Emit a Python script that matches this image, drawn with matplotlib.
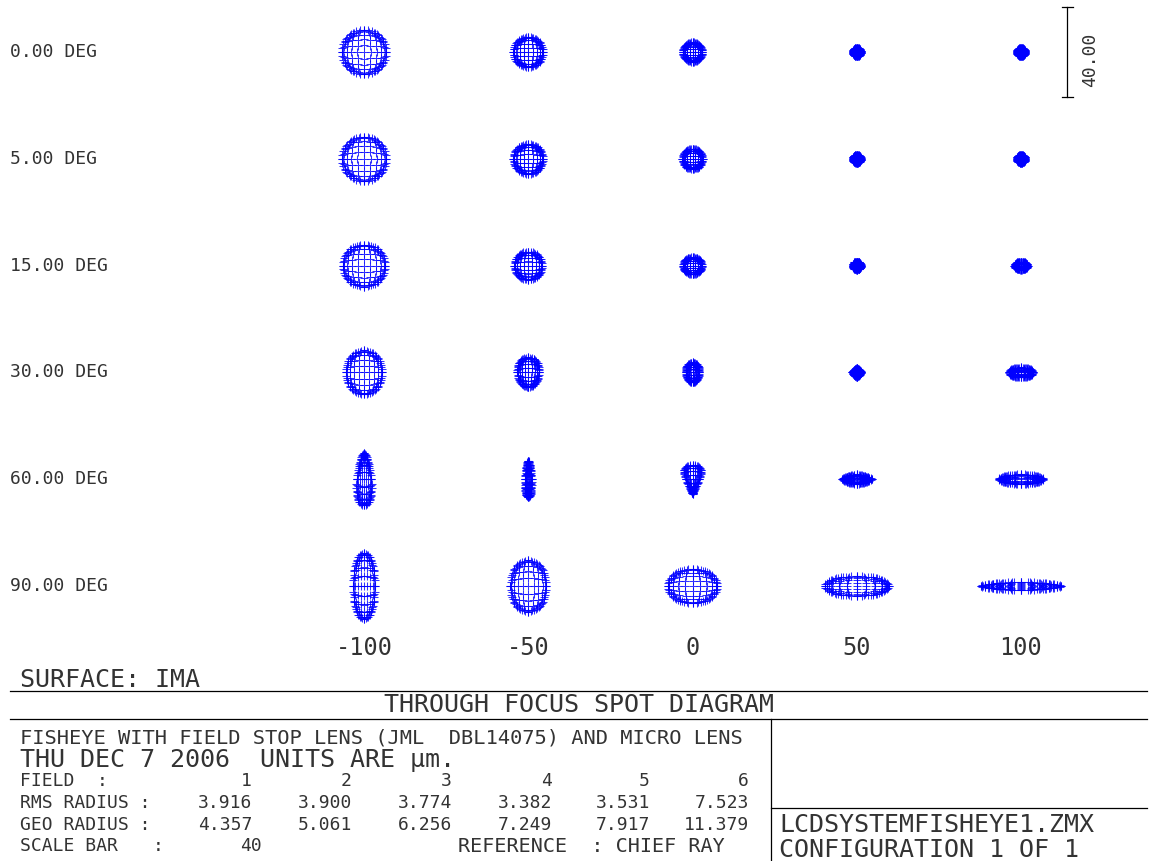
import numpy as np
import matplotlib
matplotlib.use("Agg")
import matplotlib.pyplot as plt
from matplotlib import font_manager

# ---------------------------------------------------------------- data
fields = ["0.00 DEG", "5.00 DEG", "15.00 DEG", "30.00 DEG", "60.00 DEG", "90.00 DEG"]
focus_um = [-100, -50, 0, 50, 100]

# full spot extent in micrometres (x width, y height) per field, per focus shift
spot_w = [
    [19.6, 13.3, 8.7, 3.6, 3.6],
    [19.6, 13.3, 9.0, 3.6, 3.6],
    [18.7, 12.4, 8.4, 3.6, 5.8],
    [16.0, 9.8, 6.2, 4.2, 10.7],
    [6.8, 3.0, 7.6, 13.3, 19.6],
    [9.8, 16.0, 22.2, 28.4, 35.6],
]
spot_h = [
    [19.6, 13.3, 8.7, 3.6, 3.6],
    [19.6, 13.3, 9.0, 3.6, 3.6],
    [18.7, 12.4, 7.6, 3.6, 3.6],
    [19.6, 13.3, 8.9, 4.2, 4.4],
    [23.0, 16.0, 12.9, 4.4, 4.4],
    [29.3, 23.0, 15.1, 8.9, 3.6],
]
# outline exponent (2 = ellipse, 1 = diamond) and top/bottom taper of each spot
spot_p = [
    [2, 2, 2, 2, 2],
    [2, 2, 2, 2, 2],
    [2, 2, 2, 2, 2],
    [2, 2, 2, 1.1, 2],
    [2, 2, 2, 1.3, 1.8],
    [2, 2, 2, 2, 1.6],
]
spot_t = [
    [0, 0, 0, 0, 0],
    [0, 0, 0, 0, 0],
    [0, 0, 0, 0, 0],
    [0, 0.1, 0.1, 0, 0],
    [-0.35, -0.3, 0.85, 0, 0],
    [0, 0, 0, 0, 0],
]

field_numbers = [1, 2, 3, 4, 5, 6]
rms_radius = ["3.916", "3.900", "3.774", "3.382", "3.531", "7.523"]
geo_radius = ["4.357", "5.061", "6.256", "7.249", "7.917", "11.379"]
scale_bar_um = 40

# ---------------------------------------------------------------- layout
W, H = 1152, 861
px_per_um = 2.25
col_x = [364 + i * 164.25 for i in range(len(focus_um))]
row_y = [52 + i * 106.8 for i in range(len(fields))]

ink = "#333333"
blue = "#0000ff"
mono = "DejaVu Sans Mono"
available = {f.name for f in font_manager.fontManager.ttflist}
narrow = "Liberation Sans Narrow" if "Liberation Sans Narrow" in available else mono

fig = plt.figure(figsize=(W / 100, H / 100), dpi=100)
ax = fig.add_axes([0, 0, 1, 1])
ax.set_xlim(0, W)
ax.set_ylim(H, 0)
ax.axis("off")


def pupil_grid(n=11, ring=36):
    g = np.linspace(-1, 1, n)
    X, Y = np.meshgrid(g, g)
    m = X ** 2 + Y ** 2 <= 1.0001
    a = np.linspace(0, 2 * np.pi, ring, endpoint=False)
    return np.r_[X[m], np.cos(a)], np.r_[Y[m], np.sin(a)]


PX, PY = pupil_grid()


def trace(w, h, p, t):
    r = np.hypot(PX, PY)
    th = np.arctan2(PY, PX)
    rr = 1.5 * r - 0.5 * r ** 3          # rays bunch up towards the rim
    c, s = np.cos(th), np.sin(th)
    k = (np.abs(c) ** p + np.abs(s) ** p) ** (-1.0 / p)
    ux, uy = rr * c * k, rr * s * k
    ux = ux * (1 + t * uy)
    ux = ux / np.abs(ux).max()
    uy = uy / np.abs(uy).max()
    return ux * w / 2, uy * h / 2


for i, fy in enumerate(row_y):
    for j, fx in enumerate(col_x):
        dx, dy = trace(spot_w[i][j], spot_h[i][j], spot_p[i][j], spot_t[i][j])
        ax.scatter(fx + dx * px_per_um, fy - dy * px_per_um, marker="+",
                   s=26, linewidths=0.75, color=blue, alpha=0.8)

for lab, fy in zip(fields, row_y):
    ax.text(10, fy, lab, family=mono, fontsize=13, color=ink, va="center", ha="left")

for f, fx in zip(focus_um, col_x):
    ax.text(fx, 648, f"{f}", family=mono, fontsize=17, color=ink, va="center", ha="center")

# scale bar
bar_x = 1067
half = scale_bar_um * px_per_um / 2
ax.plot([bar_x, bar_x], [row_y[0] - half, row_y[0] + half], color="black", lw=0.9)
for yy in (row_y[0] - half, row_y[0] + half):
    ax.plot([bar_x - 5.5, bar_x + 5.5], [yy, yy], color="black", lw=0.9)
ax.text(1090, row_y[0] + 8, f"{scale_bar_um:.2f}", family=mono, fontsize=13, color=ink,
        rotation=90, va="center", ha="center")

# ---------------------------------------------------------------- title block
line_kw = dict(color="black", lw=0.9)
ax.plot([10, 1147], [690.7, 690.7], **line_kw)
ax.plot([10, 1147], [719.3, 719.3], **line_kw)
ax.plot([771, 771], [719.3, H], **line_kw)
ax.plot([771, 1147], [808, 808], **line_kw)

ax.text(20, 680, "SURFACE: IMA", family=mono, fontsize=18, color=ink, va="center")
ax.text(579, 705, "THROUGH FOCUS SPOT DIAGRAM", family=mono, fontsize=18, color=ink,
        va="center", ha="center")
ax.text(20, 738, "FISHEYE WITH FIELD STOP LENS (JML  DBL14075) AND MICRO LENS",
        family=mono, fontsize=14.7, color=ink, va="center")
ax.text(20, 760, "THU DEC 7 2006  UNITS ARE \u03bcm.", family=mono, fontsize=18,
        color=ink, va="center")

val_x = [252, 352, 452, 552, 650, 749]
tab_kw = dict(family=narrow, fontsize=13, color=ink, va="center")
ax.text(20, 781, "FIELD", **tab_kw)
ax.text(97, 781, ":", **tab_kw)
ax.text(20, 803, "RMS RADIUS :", **tab_kw)
ax.text(20, 825, "GEO RADIUS :", **tab_kw)
ax.text(20, 846, "SCALE BAR", **tab_kw)
ax.text(153, 846, ":", **tab_kw)
for x, n, r, g in zip(val_x, field_numbers, rms_radius, geo_radius):
    ax.text(x, 781, str(n), ha="right", **tab_kw)
    ax.text(x, 803, r, ha="right", **tab_kw)
    ax.text(x, 825, g, ha="right", **tab_kw)
ax.text(262, 846, str(scale_bar_um), ha="right", **tab_kw)
ax.text(458, 846, "REFERENCE  : CHIEF RAY", family=mono, fontsize=14.5, color=ink, va="center")

ax.text(779, 825, "LCDSYSTEMFISHEYE1.ZMX", family=mono, fontsize=18, color=ink, va="center")
ax.text(779, 850, "CONFIGURATION 1 OF 1", family=mono, fontsize=18, color=ink, va="center")

fig.savefig("out.png", dpi=100, facecolor="white")
